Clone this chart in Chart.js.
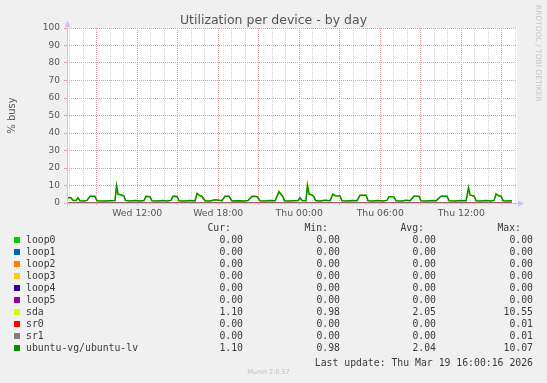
<!DOCTYPE html>
<html>
<head>
    <title>Utilization per device - by day</title>
    <script src="https://cdn.jsdelivr.net/npm/chart.js"></script>
    <style>
        body { margin: 0; background: #f0f0f0; }
        #wrap { position: relative; width: 547px; height: 383px; font-family: 'DejaVu Sans', sans-serif; color: #555; }
        #wrap canvas { position: absolute; left: 0; top: 0; }
        .t { position: absolute; white-space: pre; }
        .mono { font-family: 'DejaVu Sans Mono', monospace; font-size: 9.8px; line-height: 12px; height: 12px; color: #3a3a3a; }
        .sw { position: absolute; width: 6px; height: 6px; }
    </style>
</head>
<body>
<div id="wrap">
    <canvas id="chart" width="547" height="383"></canvas>
    <div class="t" style="left:0; width:547px; top:12px; text-align:center; font-size:12.5px; line-height:15px; color:#555;">Utilization per device - by day</div>
    <div class="t" style="left:534px; top:5px; writing-mode:vertical-rl; font-size:7.5px; color:#c4c4c4;">RRDTOOL / TOBI OETIKER</div>
    <div class="t" style="left:0; width:537px; top:368px; text-align:center; font-size:6.5px; line-height:8px; color:#bdbdbd;">Munin 2.0.57</div>
    <div id="legend"></div>
</div>

<script>
// time axis in hours from Wed 00:00
const xMin = 6.8;
const xMax = 40.13;
const xTickHours = [12, 18, 24, 30, 36];
const xTickLabels = ['Wed 12:00', 'Wed 18:00', 'Thu 00:00', 'Thu 06:00', 'Thu 12:00'];

const times = [
    6.80, 7.10, 7.24, 7.47, 7.61, 7.76, 8.06, 8.28, 8.50, 8.87,
    9.02, 9.61, 9.99, 10.36, 10.47, 10.58, 10.80, 11.02, 11.13, 11.47,
    11.84, 12.21, 12.50, 12.65, 12.95, 13.10, 13.54, 13.91, 14.21, 14.50,
    14.65, 14.95, 15.10, 15.54, 15.91, 16.28, 16.43, 16.58, 16.80, 17.02,
    17.39, 17.76, 18.06, 18.28, 18.50, 18.80, 19.02, 19.47, 19.91, 20.21,
    20.50, 20.87, 21.10, 21.47, 21.84, 22.21, 22.50, 22.65, 22.80, 22.91,
    23.17, 23.61, 23.91, 24.06, 24.21, 24.50, 24.61, 24.73, 24.95, 25.10,
    25.21, 25.54, 25.91, 26.28, 26.50, 26.65, 27.02, 27.17, 27.61, 27.91,
    28.28, 28.50, 28.95, 29.10, 29.47, 29.84, 30.21, 30.50, 30.65, 31.02,
    31.17, 31.61, 31.91, 32.21, 32.50, 32.87, 33.02, 33.47, 33.84, 34.13,
    34.50, 34.95, 35.10, 35.54, 35.91, 36.36, 36.54, 36.65, 36.95, 37.10,
    37.47, 37.84, 38.21, 38.43, 38.58, 38.80, 38.95, 39.10, 39.47, 39.76
];

const sda = [
    3.2, 3.0, 1.6, 1.4, 3.0, 1.3, 1.2, 1.5, 3.8, 3.8,
    1.3, 1.2, 1.3, 1.4, 10.2, 5.1, 4.7, 4.0, 1.5, 1.2,
    1.4, 1.2, 1.4, 3.8, 3.6, 1.3, 1.2, 1.4, 1.2, 1.5,
    3.8, 3.7, 1.3, 1.2, 1.4, 1.2, 5.6, 4.6, 3.6, 1.3,
    1.2, 1.8, 1.6, 1.3, 3.8, 3.8, 1.2, 1.3, 1.2, 1.4,
    3.8, 3.7, 1.3, 1.2, 1.4, 1.3, 6.8, 5.1, 3.5, 1.3,
    1.2, 1.3, 1.4, 3.0, 1.4, 1.3, 10.55, 5.1, 4.7, 3.5,
    1.4, 1.2, 1.5, 1.3, 5.2, 4.3, 4.0, 1.3, 1.2, 1.4,
    1.3, 4.4, 4.4, 1.3, 1.2, 1.4, 1.2, 1.5, 3.6, 3.5,
    1.3, 1.2, 1.5, 1.3, 3.9, 3.8, 1.3, 1.2, 1.4, 1.2,
    3.9, 3.8, 1.3, 1.2, 1.4, 1.3, 8.9, 4.6, 4.0, 1.3,
    1.2, 1.4, 1.2, 1.5, 5.4, 4.0, 4.0, 1.3, 1.2, 1.3
];

const ubuntuLv = [
    3.2, 3.0, 1.6, 1.4, 3.0, 1.3, 1.2, 1.5, 3.8, 3.8,
    1.3, 1.2, 1.3, 1.4, 9.8, 5.0, 4.6, 4.0, 1.5, 1.2,
    1.4, 1.2, 1.4, 3.8, 3.6, 1.3, 1.2, 1.4, 1.2, 1.5,
    3.8, 3.7, 1.3, 1.2, 1.4, 1.2, 5.4, 4.5, 3.6, 1.3,
    1.2, 1.8, 1.6, 1.3, 3.8, 3.8, 1.2, 1.3, 1.2, 1.4,
    3.8, 3.7, 1.3, 1.2, 1.4, 1.3, 6.5, 5.0, 3.5, 1.3,
    1.2, 1.3, 1.4, 3.0, 1.4, 1.3, 10.07, 5.0, 4.6, 3.5,
    1.4, 1.2, 1.5, 1.3, 5.0, 4.2, 4.0, 1.3, 1.2, 1.4,
    1.3, 4.4, 4.4, 1.3, 1.2, 1.4, 1.2, 1.5, 3.6, 3.5,
    1.3, 1.2, 1.5, 1.3, 3.9, 3.8, 1.3, 1.2, 1.4, 1.2,
    3.9, 3.8, 1.3, 1.2, 1.4, 1.3, 8.6, 4.5, 4.0, 1.3,
    1.2, 1.4, 1.2, 1.5, 5.2, 4.0, 4.0, 1.3, 1.2, 1.3
];

// devices that stayed at 0 all day
const zeroTimes = [6.80, 39.76];
const zeroValues = [0, 0];

const names = ['loop0', 'loop1', 'loop2', 'loop3', 'loop4', 'loop5', 'sda', 'sr0', 'sr1', 'ubuntu-vg/ubuntu-lv'];
const colors = ['#00cc00', '#0066b3', '#ff8000', '#ffcc00', '#330099', '#990099', '#ccff00', '#ff0000', '#808080', '#008f00'];
const curVals = ['0.00', '0.00', '0.00', '0.00', '0.00', '0.00', '1.10', '0.00', '0.00', '1.10'];
const minVals = ['0.00', '0.00', '0.00', '0.00', '0.00', '0.00', '0.98', '0.00', '0.00', '0.98'];
const avgVals = ['0.00', '0.00', '0.00', '0.00', '0.00', '0.00', '2.05', '0.00', '0.00', '2.04'];
const maxVals = ['0.00', '0.00', '0.00', '0.00', '0.00', '0.00', '10.55', '0.01', '0.01', '10.07'];
const lastUpdate = 'Last update: Thu Mar 19 16:00:16 2026';

const majorGrid = '#e99a9a';
const minorGrid = '#cfcfcf';
const axisColor = '#c6c6f2';

function pts(xs, ys) {
    return xs.map((x, i) => ({ x: x, y: ys[i] }));
}

const seriesData = names.map(n => {
    if (n === 'sda') return pts(times, sda);
    if (n === 'ubuntu-vg/ubuntu-lv') return pts(times, ubuntuLv);
    return pts(zeroTimes, zeroValues);
});

// white plot area + rrdtool style axes with arrows
const frame = {
    id: 'frame',
    beforeDraw(chart) {
        const { ctx, chartArea: a } = chart;
        ctx.save();
        ctx.fillStyle = '#ffffff';
        ctx.fillRect(a.left, a.top, a.right - a.left, a.bottom - a.top);
        ctx.restore();
    },
    afterDatasetsDraw(chart) {
        const { ctx, chartArea: a } = chart;
        const l = Math.round(a.left) + 0.5;
        const b = Math.round(a.bottom) + 0.5;
        ctx.save();
        ctx.strokeStyle = axisColor;
        ctx.fillStyle = axisColor;
        ctx.lineWidth = 1;
        ctx.beginPath();
        ctx.moveTo(l, b + 3);
        ctx.lineTo(l, a.top - 2);
        ctx.moveTo(l - 3, b);
        ctx.lineTo(a.right + 2, b);
        ctx.stroke();
        ctx.beginPath();
        ctx.moveTo(l, a.top - 7);
        ctx.lineTo(l - 3, a.top - 1);
        ctx.lineTo(l + 3, a.top - 1);
        ctx.closePath();
        ctx.fill();
        ctx.beginPath();
        ctx.moveTo(a.right + 7, b);
        ctx.lineTo(a.right + 1, b - 3);
        ctx.lineTo(a.right + 1, b + 3);
        ctx.closePath();
        ctx.fill();
        ctx.restore();
    }
};

Chart.defaults.font.family = "'DejaVu Sans', sans-serif";
Chart.defaults.color = '#555';

new Chart(document.getElementById('chart'), {
    type: 'line',
    data: {
        datasets: names.map((n, i) => ({
            label: n,
            data: seriesData[i],
            borderColor: colors[i],
            borderWidth: 1.5,
            pointRadius: 0,
            tension: 0,
            fill: false,
            order: names.length - i
        }))
    },
    options: {
        responsive: false,
        animation: false,
        events: [],
        layout: { padding: { left: 0, right: 30, top: 28, bottom: 160 } },
        plugins: {
            legend: { display: false },
            tooltip: { enabled: false },
            title: { display: false }
        },
        scales: {
            x: {
                type: 'linear',
                min: xMin,
                max: xMax,
                afterBuildTicks: axis => {
                    const t = [];
                    for (let h = Math.ceil(xMin); h <= Math.floor(xMax); h++) t.push({ value: h });
                    axis.ticks = t;
                },
                afterFit: scale => { scale.height = 20; },
                ticks: {
                    autoSkip: false,
                    maxRotation: 0,
                    padding: 3,
                    font: { size: 9.3 },
                    color: '#555',
                    callback: v => {
                        const i = xTickHours.indexOf(v);
                        return i >= 0 ? xTickLabels[i] : '';
                    }
                },
                grid: {
                    color: c => (c.tick && c.tick.value % 3 === 0) ? majorGrid : minorGrid,
                    tickLength: 2,
                    tickBorderDash: []
                },
                border: { display: false, dash: [1, 1] }
            },
            y: {
                min: 0,
                max: 100,
                afterFit: scale => { scale.width = 67; },
                ticks: {
                    stepSize: 5,
                    padding: 4,
                    font: { size: 9 },
                    color: '#555',
                    callback: v => v % 10 === 0 ? v : ''
                },
                grid: {
                    color: c => (c.tick && c.tick.value % 10 === 0) ? majorGrid : minorGrid,
                    tickLength: 3,
                    tickBorderDash: []
                },
                border: { display: false, dash: [1, 1] },
                title: {
                    display: true,
                    text: '% busy',
                    font: { size: 10 },
                    color: '#555',
                    padding: { top: 6, bottom: 0 }
                }
            }
        }
    },
    plugins: [frame]
});

// legend table below the plot
const legend = document.getElementById('legend');
const rowTop = 234;
const rowStep = 12;
const colRight = [304, 207, 111, 14];
const heads = ['Cur:', 'Min:', 'Avg:', 'Max:'];
let html = '';
heads.forEach((h, j) => {
    html += `<div class="t mono" style="right:${colRight[j] + 12}px; top:${rowTop - rowStep - 0.5}px;">${h}</div>`;
});
names.forEach((n, i) => {
    const top = rowTop + i * rowStep;
    html += `<div class="sw" style="left:14px; top:${top + 3}px; background:${colors[i]};"></div>`;
    html += `<div class="t mono" style="left:26px; top:${top}px;">${n}</div>`;
    [curVals, minVals, avgVals, maxVals].forEach((col, j) => {
        html += `<div class="t mono" style="right:${colRight[j]}px; top:${top}px;">${col[i]}</div>`;
    });
});
html += `<div class="t mono" style="right:14px; top:${rowTop + names.length * rowStep + 2.5}px;">${lastUpdate}</div>`;
legend.innerHTML = html;
</script>
</body>
</html>
